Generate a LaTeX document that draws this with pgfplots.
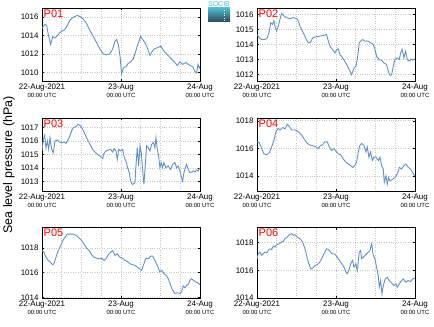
\documentclass[border=0pt]{standalone}
\usepackage{pgfplots}
\pgfplotsset{compat=1.18}
\usepackage{fontspec}
\setmainfont{Liberation Sans}
\definecolor{lineblue}{RGB}{100,145,195}
\definecolor{logotop}{RGB}{80,185,205}
\definecolor{logobot}{RGB}{45,70,85}
\tikzset{plabel/.style={anchor=north west, text=red, font=\fontsize{11}{11}\selectfont, inner sep=1.5bp},
  ser/.style={line width=0.9pt, color=lineblue, mark=none}}
\pgfplotsset{
  panel/.style={
    width=158bp, height=73bp, scale only axis, anchor=south west,
    xmin=0, xmax=48,
    xtick={0,24,48},
    xticklabels={{22-Aug-2021\\[-1pt]{\fontsize{6}{7}\selectfont 00:00 UTC}},
                 {23-Aug\\[-1pt]{\fontsize{6}{7}\selectfont 00:00 UTC}},
                 {24-Aug\\[-1pt]{\fontsize{6}{7}\selectfont 00:00 UTC}}},
    minor xtick={6,12,18,30,36,42},
    xmajorgrids, xminorgrids, ymajorgrids,
    major grid style={dotted, gray!45, line width=0.6pt},
    minor grid style={dotted, gray!45, line width=0.6pt},
    tick align=inside, major tick length=2bp, minor tick length=0bp,
    tick style={black, line width=0.5pt},
    ticklabel style={font=\fontsize{8}{9}\selectfont},
    xticklabel style={align=center, yshift=1bp},
    /pgf/number format/assume math mode=true,
    /pgf/number format/1000 sep={},
    axis line style={black, line width=0.7pt},
  },
}
\begin{document}
\begin{tikzpicture}
\useasboundingbox (0bp,0bp) rectangle (434bp,327bp);

% P01
\begin{axis}[panel, at={(42bp,246bp)}, ymin=1009.1, ymax=1017, ytick={1010,1012,1014,1016}]
\addplot[ser] coordinates {(0,1014.8)(0.91,1015.24)(1.42,1015.1)(1.92,1014.1)(2.63,1013.07)(3.24,1013.9)(3.95,1013.76)(4.66,1014.0)(5.26,1014.3)(5.67,1014.4)(6.28,1014.55)(6.98,1014.7)(7.69,1015.1)(8.5,1015.7)(9.51,1016.0)(10.73,1016.2)(11.54,1016.07)(12.55,1015.8)(13.56,1015.3)(14.57,1014.55)(15.59,1013.93)(16.6,1013.24)(17.61,1012.55)(18.62,1012.03)(19.64,1011.93)(20.65,1012.07)(21.46,1012.55)(22.17,1013.4)(22.67,1013.6)(23.18,1013.07)(23.68,1011.86)(24.19,1009.85)(24.7,1010.5)(25.51,1010.66)(26.21,1011.0)(26.92,1011.17)(27.73,1011.5)(28.54,1012.38)(28.95,1012.9)(29.45,1013.4)(29.96,1013.93)(30.57,1013.6)(31.28,1013.24)(31.98,1012.72)(32.79,1011.86)(33.6,1012.38)(34.31,1012.62)(35.32,1012.72)(36.03,1012.9)(36.64,1012.55)(37.35,1012.2)(38.36,1011.86)(39.37,1011.45)(40.38,1011.1)(41.09,1010.76)(41.9,1011.17)(42.71,1010.9)(43.72,1011.1)(44.74,1010.83)(45.75,1010.66)(46.46,1010.14)(46.96,1009.97)(47.37,1010.9)(47.77,1010.5)(47.98,1010.66)};
\node[plabel] at (rel axis cs:0,1) {P01};
\end{axis}

% P02
\begin{axis}[panel, at={(257bp,246bp)}, ymin=1011.58, ymax=1016.42, ytick={1012,1013,1014,1015,1016}]
\addplot[ser] coordinates {(0,1014.67)(0.71,1014.44)(1.42,1014.33)(2.43,1014.33)(3.14,1014.44)(3.74,1014.89)(4.15,1015.44)(4.66,1015.33)(5.16,1015.56)(5.57,1015.11)(5.97,1014.89)(6.48,1015.22)(6.98,1015.67)(7.49,1016.07)(8.2,1015.89)(9.01,1015.78)(10.02,1015.71)(11.03,1015.78)(12.04,1015.71)(12.55,1015.56)(13.06,1015.22)(14.07,1014.78)(14.88,1014.38)(15.59,1014.11)(16.3,1014.16)(16.9,1014.44)(17.91,1014.51)(19.13,1014.56)(20.34,1014.6)(21.15,1014.67)(21.66,1014.22)(22.17,1013.89)(22.98,1013.67)(23.68,1013.44)(24.19,1013.67)(24.7,1013.71)(25.2,1013.33)(25.71,1013.22)(26.42,1012.98)(27.23,1012.67)(28.04,1012.33)(28.74,1012.0)(29.45,1012.44)(30.06,1012.56)(30.47,1013.0)(31.07,1014.11)(31.48,1014.22)(32.09,1014.33)(32.79,1014.22)(33.81,1014.22)(34.51,1014.11)(35.32,1014.0)(35.83,1013.67)(36.34,1013.22)(37.15,1012.98)(37.85,1012.96)(38.56,1012.78)(39.37,1012.67)(39.88,1012.22)(40.38,1011.96)(40.89,1012.0)(41.4,1012.56)(41.9,1013.0)(42.61,1013.11)(43.22,1013.0)(43.62,1013.44)(44.13,1013.67)(44.64,1013.11)(45.14,1013.56)(45.65,1013.0)(46.26,1012.89)(46.76,1013.04)(47.27,1012.96)(47.98,1013.04)};
\node[plabel] at (rel axis cs:0,1) {P02};
\end{axis}

% P03
\begin{axis}[panel, at={(42bp,136bp)}, ymin=1012.32, ymax=1017.68, ytick={1013,1014,1015,1016,1017}]
\addplot[ser] coordinates {(0,1015.26)(0.4,1016.12)(0.81,1016.41)(1.21,1015.5)(1.62,1016.0)(2.02,1015.38)(2.43,1016.24)(2.94,1015.38)(3.44,1015.13)(3.95,1016.0)(4.66,1016.07)(5.26,1015.92)(5.97,1015.87)(6.68,1015.92)(7.29,1015.82)(8.0,1016.12)(8.5,1016.36)(9.01,1016.73)(9.51,1016.98)(10.32,1017.05)(11.03,1017.22)(11.74,1017.1)(12.35,1016.85)(13.06,1016.48)(13.77,1016.12)(14.57,1015.75)(15.38,1015.38)(16.09,1015.18)(16.8,1015.01)(17.61,1014.89)(18.42,1014.69)(18.83,1015.09)(19.43,1015.26)(20.14,1015.33)(20.85,1015.38)(21.46,1015.18)(21.86,1015.43)(22.47,1015.26)(22.87,1014.64)(23.28,1015.38)(23.89,1015.26)(24.49,1015.38)(25.0,1014.77)(25.51,1014.52)(26.01,1014.03)(26.52,1013.66)(26.92,1013.05)(27.53,1012.8)(28.24,1012.93)(28.54,1014.15)(28.95,1015.5)(29.35,1014.15)(29.76,1015.63)(30.16,1015.13)(30.57,1013.9)(30.97,1012.8)(31.28,1013.9)(31.78,1015.63)(32.29,1015.5)(32.79,1015.26)(33.3,1015.75)(33.81,1015.87)(34.31,1015.5)(34.62,1016.24)(35.02,1015.38)(35.43,1014.89)(35.83,1014.03)(36.23,1014.4)(36.64,1014.03)(37.04,1014.4)(37.65,1014.03)(38.36,1014.15)(39.07,1013.9)(39.68,1014.28)(40.38,1014.4)(40.89,1014.03)(41.4,1014.15)(41.9,1013.79)(42.41,1013.3)(42.71,1013.05)(43.12,1013.66)(43.52,1014.03)(43.93,1014.28)(44.43,1013.9)(44.94,1013.66)(45.45,1013.71)(45.95,1013.79)(46.46,1013.71)(46.96,1013.86)(47.47,1013.79)(47.98,1014.03)};
\node[plabel] at (rel axis cs:0,1) {P03};
\end{axis}

% P04
\begin{axis}[panel, at={(257bp,136bp)}, ymin=1012.9, ymax=1018.2, ytick={1014,1016,1018}]
\addplot[ser] coordinates {(0,1016.47)(0.71,1016.42)(1.42,1015.98)(2.13,1015.6)(2.94,1015.53)(3.74,1015.68)(4.45,1016.1)(5.16,1016.59)(5.77,1017.21)(6.48,1017.46)(6.98,1017.33)(7.79,1017.51)(8.5,1017.41)(9.21,1017.75)(9.82,1017.58)(10.53,1017.33)(11.54,1017.33)(12.55,1017.21)(13.56,1016.96)(14.57,1016.59)(15.28,1016.35)(16.3,1016.22)(17.11,1016.17)(17.91,1016.1)(18.62,1015.98)(19.13,1016.17)(19.94,1016.27)(20.65,1016.47)(21.36,1016.47)(21.96,1016.1)(22.67,1015.85)(23.38,1015.98)(23.99,1015.78)(24.7,1015.6)(25.4,1015.53)(26.21,1015.23)(27.02,1014.99)(27.73,1014.86)(28.44,1014.74)(29.05,1014.62)(29.76,1014.74)(30.26,1014.99)(30.77,1015.73)(31.28,1016.22)(31.78,1016.35)(32.49,1016.22)(33.1,1015.73)(33.5,1016.1)(34.01,1015.36)(34.51,1015.73)(35.02,1015.11)(35.53,1015.36)(36.13,1015.36)(36.84,1015.11)(37.35,1015.36)(37.85,1014.74)(38.36,1014.49)(38.66,1013.51)(39.17,1014.0)(39.57,1013.38)(39.98,1013.88)(40.38,1013.63)(41.19,1013.75)(41.9,1013.88)(42.61,1014.12)(43.22,1014.62)(43.93,1014.49)(44.64,1014.74)(45.24,1014.86)(45.95,1014.62)(46.66,1014.49)(47.27,1014.25)(47.98,1014.0)};
\node[plabel] at (rel axis cs:0,1) {P04};
\end{axis}

% P05
\begin{axis}[panel, height=70.5bp, at={(42bp,29bp)}, ymin=1013.95, ymax=1019.65, ytick={1014,1016,1018}]
\addplot[ser] coordinates {(0,1017.79)(0.61,1017.65)(1.21,1017.25)(1.92,1016.99)(2.63,1016.8)(3.24,1016.64)(3.64,1016.72)(4.25,1017.25)(4.96,1017.79)(5.67,1018.19)(6.28,1018.59)(6.98,1018.85)(7.69,1019.12)(8.5,1019.12)(9.51,1019.12)(10.53,1018.99)(11.34,1018.77)(12.04,1018.59)(12.75,1018.32)(13.56,1017.97)(14.37,1017.79)(15.08,1017.44)(15.79,1017.25)(16.6,1017.17)(17.41,1017.12)(18.12,1017.17)(18.83,1016.99)(19.43,1017.12)(20.14,1017.44)(20.85,1017.65)(21.46,1017.79)(22.17,1017.39)(22.87,1017.52)(23.68,1017.25)(24.49,1017.17)(25.2,1016.99)(25.91,1016.91)(26.72,1016.72)(27.53,1016.64)(28.24,1016.59)(28.95,1016.45)(29.55,1016.32)(30.26,1016.19)(30.97,1016.72)(31.58,1017.17)(32.29,1017.12)(33.0,1017.33)(33.6,1017.33)(34.31,1016.99)(35.02,1016.59)(35.83,1016.05)(36.44,1016.19)(37.04,1015.92)(37.65,1015.79)(38.36,1015.52)(39.07,1014.99)(39.68,1014.59)(40.38,1014.32)(41.09,1014.37)(41.9,1014.32)(42.41,1014.45)(42.91,1014.93)(43.42,1014.77)(43.93,1014.99)(44.43,1015.04)(44.94,1015.39)(45.45,1015.52)(45.95,1015.39)(46.56,1015.25)(47.17,1015.2)(47.98,1015.04)};
\node[plabel] at (rel axis cs:0,1) {P05};
\end{axis}

% P06
\begin{axis}[panel, height=70.5bp, at={(257bp,29bp)}, ymin=1014, ymax=1019.1, ytick={1014,1016,1018}]
\addplot[ser] coordinates {(0,1016.84)(0.4,1017.2)(0.91,1017.32)(1.42,1017.08)(1.92,1017.2)(2.43,1017.32)(2.94,1017.27)(3.44,1017.44)(3.95,1017.56)(4.45,1017.51)(4.96,1017.76)(5.47,1017.68)(5.97,1017.85)(6.78,1017.93)(7.49,1018.05)(8.0,1018.1)(8.5,1018.29)(9.21,1018.41)(9.82,1018.58)(10.53,1018.65)(11.03,1018.53)(11.54,1018.58)(12.25,1018.41)(13.06,1018.29)(13.87,1018.05)(14.57,1017.56)(15.08,1017.08)(15.59,1016.59)(16.3,1016.11)(16.9,1016.16)(17.61,1016.35)(18.32,1016.4)(18.93,1016.55)(19.64,1016.84)(20.34,1017.2)(21.15,1017.56)(21.66,1017.51)(22.17,1017.37)(22.77,1017.2)(23.38,1017.2)(23.99,1017.08)(24.7,1016.84)(25.4,1016.59)(26.01,1016.4)(26.42,1016.23)(27.02,1015.87)(27.43,1015.75)(28.04,1016.11)(28.44,1016.47)(29.05,1016.72)(29.45,1016.23)(30.06,1016.47)(30.47,1015.99)(31.07,1017.32)(31.48,1017.44)(31.78,1016.84)(32.29,1016.96)(32.79,1017.08)(33.3,1017.2)(33.81,1017.32)(34.31,1017.44)(34.82,1017.93)(35.32,1017.08)(35.83,1016.84)(36.34,1016.23)(36.84,1015.62)(37.15,1014.78)(37.55,1015.26)(37.96,1014.29)(38.36,1014.9)(38.97,1015.38)(39.57,1015.5)(40.18,1015.26)(40.89,1015.09)(41.6,1014.9)(42.21,1015.02)(42.61,1014.78)(43.22,1015.02)(43.93,1015.26)(44.43,1015.38)(45.24,1015.14)(45.95,1015.26)(46.66,1015.19)(47.27,1015.38)(47.98,1015.43)};
\node[plabel] at (rel axis cs:0,1) {P06};
\end{axis}

% y label
\node[rotate=90, font=\fontsize{12.5}{13}\selectfont] at (9bp,162bp) {Sea level pressure (hPa)};
% logo
\shade[top color=logotop, bottom color=logobot] (208bp,305bp) rectangle (230bp,319bp);
\draw[white, dotted, line width=0.6pt] (224bp,306bp) -- (224bp,318bp);
\node[text=logotop, font=\fontsize{7}{7}\selectfont, inner sep=0pt] at (219bp,323bp) {SOCIB};
\end{tikzpicture}
\end{document}
